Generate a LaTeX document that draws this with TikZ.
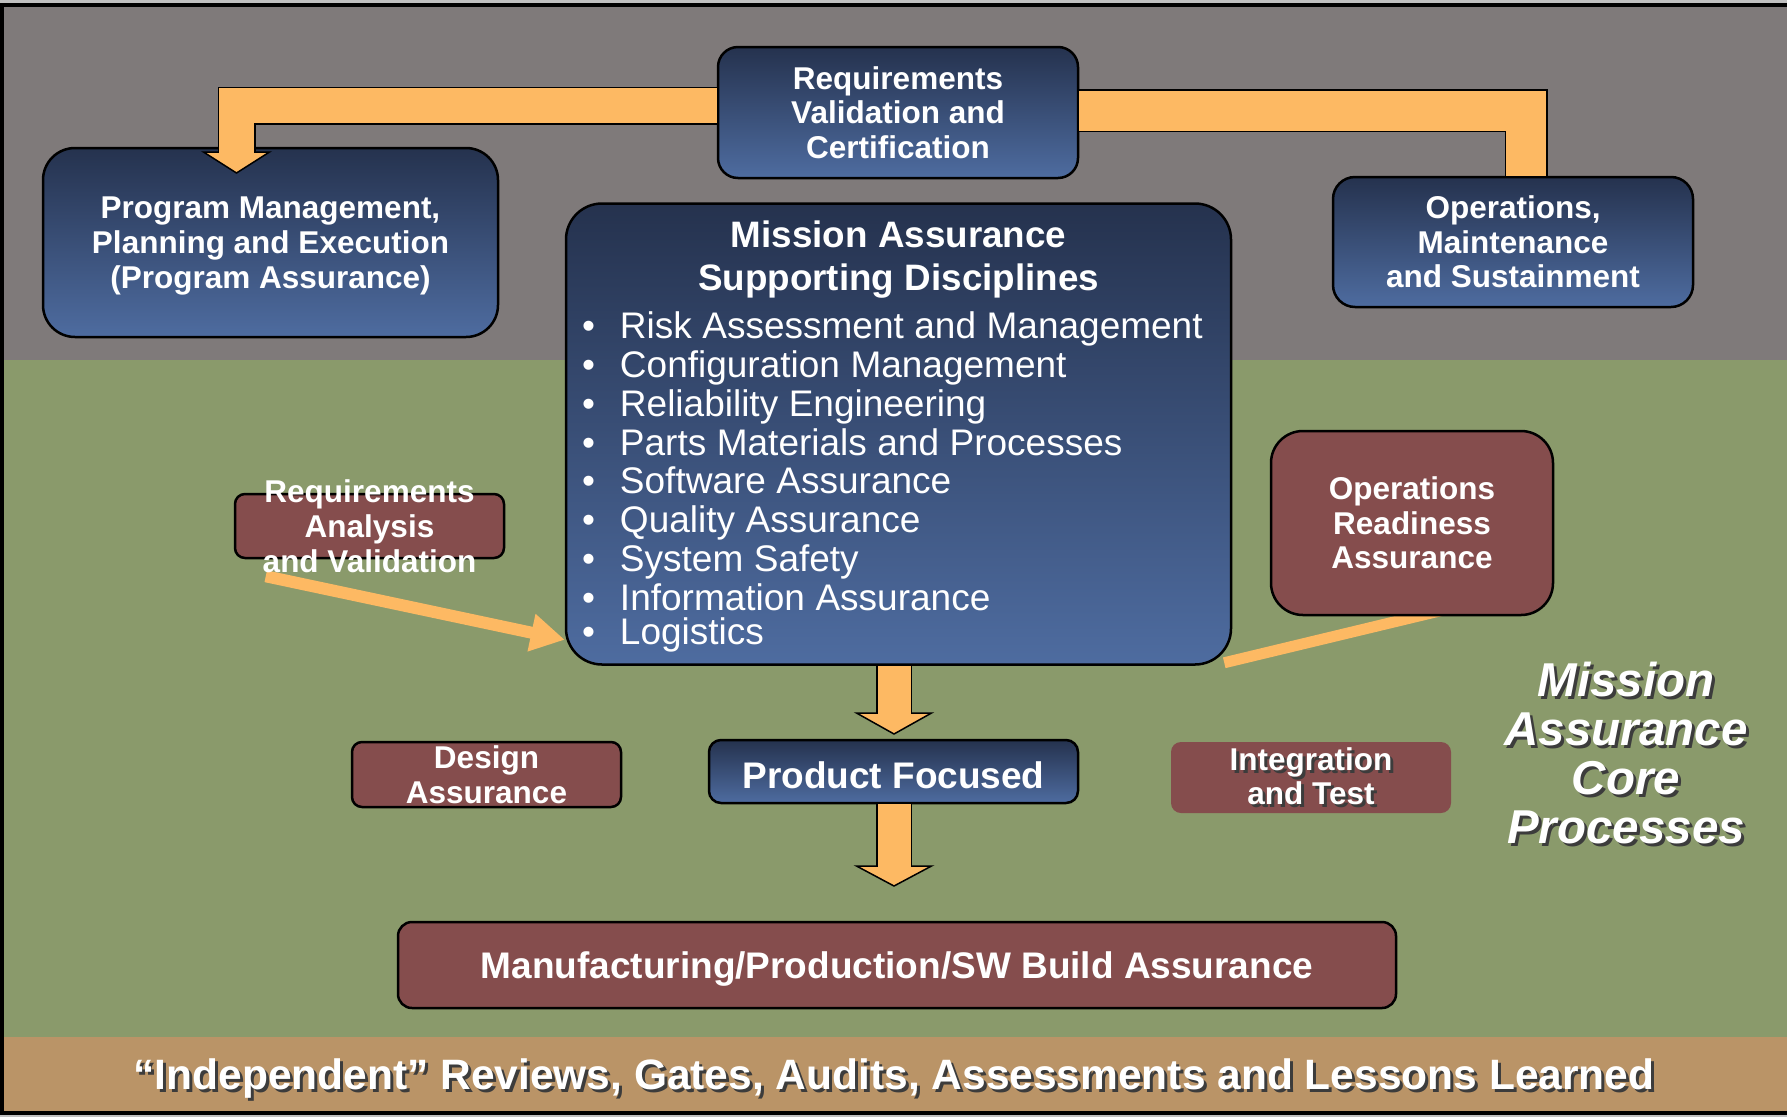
\documentclass[tikz,border=0pt]{standalone}
\usepackage{fontspec}
\setmainfont{Liberation Sans}
\usetikzlibrary{arrows.meta,calc}

\definecolor{graybg}{RGB}{127,122,122}
\definecolor{greenbg}{RGB}{138,154,107}
\definecolor{tanbg}{RGB}{186,148,103}
\definecolor{navytop}{RGB}{37,50,78}
\definecolor{navybot}{RGB}{78,108,160}
\definecolor{boxred}{RGB}{133,77,77}
\definecolor{arrowor}{RGB}{253,185,99}
\definecolor{shadowc}{RGB}{60,60,60}
\definecolor{edgegray}{RGB}{192,192,192}

\pgfdeclarelayer{background}
\pgfdeclarelayer{links}
\pgfsetlayers{background,links,main}

\newcommand{\shadowed}[1]{\leavevmode\rlap{\kern3pt\raisebox{-3pt}{\color{shadowc}#1}}#1}
\newcommand{\bul}{\makebox[38pt][l]{\textbullet}}

\tikzset{
  bluebox/.style={draw=black, line width=2.5pt, top color=navytop, bottom color=navybot,
    text=white, align=center, inner sep=0pt, font=\fontsize{31.5}{34.5}\selectfont\bfseries},
  redbox/.style={draw=black, line width=2.5pt, fill=boxred, text=white, align=center,
    inner sep=0pt, font=\fontsize{31.5}{34.5}\selectfont\bfseries},
  bandline/.style={draw=black, line width=1.5pt, double=arrowor, double distance=35pt, line join=miter},
  bandtip/.style={fill=arrowor, draw=black, line width=1.5pt, line join=miter},
  feed/.style={draw=arrowor, line width=12pt, -{Triangle[length=34pt,width=36pt]}},
  boxtext/.style={text=white, align=center, inner sep=0pt, font=\fontsize{31.5}{35}\selectfont\bfseries},
}

\begin{document}
\begin{tikzpicture}[x=1pt,y=-1pt]
\useasboundingbox (0,0) rectangle (1787,1117);
\begin{pgfonlayer}{background}
\fill[edgegray] (0,0) rectangle (1787,1117);
\fill[black] (0,3) rectangle (1787,1115);
\fill[graybg] (4,7) rectangle (1787,360);
\fill[greenbg] (4,360) rectangle (1787,1037);
\fill[tanbg] (4,1037) rectangle (1787,1111);
\end{pgfonlayer}

% boxes
\node[bluebox, minimum width=360pt, minimum height=131pt, rounded corners=20pt] (rvc) at (898,112.5) {Requirements\\Validation and\\Certification};
\node[bluebox, minimum width=455pt, minimum height=189pt, rounded corners=32pt,
  label={[boxtext, yshift=-3pt]center:Program Management,\\Planning and Execution\\(Program Assurance)}] (pm) at (270.5,242.5) {};
\node[bluebox, minimum width=360pt, minimum height=130pt, rounded corners=22pt] (oms) at (1513,242) {Operations,\\Maintenance\\and Sustainment};
\node[bluebox, minimum width=665pt, minimum height=461pt, rounded corners=36pt, text width=633pt, align=left] (mad) at (898.5,434) {%
{\centering\fontsize{36.8}{43}\selectfont\bfseries\rule{0pt}{32.5pt}Mission Assurance\\Supporting Disciplines\par}
\vspace{9pt}
\fontsize{37}{38.8}\selectfont\mdseries
\bul Risk Assessment and Management\\
\bul Configuration Management\\
\bul Reliability Engineering\\
\bul Parts Materials and Processes\\
\bul Software Assurance\\
\bul Quality Assurance\\
\bul System Safety\\
\bul Information Assurance\\
\bul Logistics};
\node[redbox, minimum width=269pt, minimum height=64pt, rounded corners=10pt,
  label={[boxtext]center:Requirements\\Analysis\\and Validation}] (rav) at (369.5,526) {};
\node[redbox, minimum width=282pt, minimum height=184pt, rounded corners=32pt] (ora) at (1412,523) {Operations\\Readiness\\Assurance};
\node[redbox, minimum width=269pt, minimum height=65pt, rounded corners=10pt] (da) at (486.5,774.5) {Design\\Assurance};
\node[bluebox, minimum width=369pt, minimum height=63pt, rounded corners=12pt, text height=33.5pt, text depth=0pt,
  font=\fontsize{37}{40}\selectfont\bfseries] (pf) at (893.5,771.5) {Product Focused};
\node[redbox, draw=none, minimum width=280pt, minimum height=71pt, rounded corners=10pt] (it) at (1311,777.5) {\shadowed{Integration}\\\shadowed{and Test}};
\node[redbox, minimum width=998pt, minimum height=86pt, rounded corners=14pt, text height=26.5pt, text depth=0pt,
  font=\fontsize{37}{40}\selectfont\bfseries] (mfg) at (897,965) {Manufacturing/Production/SW Build Assurance};

% side texts
\node[text=white, align=center, inner sep=0pt, font=\fontsize{47.5}{49}\selectfont\bfseries\itshape] (core) at (1626,754.5) {\shadowed{Mission}\\\shadowed{Assurance}\\\shadowed{Core}\\\shadowed{Processes}};
\node[text=white, inner sep=0pt, text height=30.4pt, text depth=0pt, font=\fontsize{42.5}{48}\selectfont\bfseries] (rev) at (894,1074) {\shadowed{“Independent” Reviews, Gates, Audits, Assessments and Lessons Learned}};

% connectors
\coordinate (pmbend) at (236.5,105.5);
\coordinate (pmtip) at (236.5,153);
\coordinate (omsbend) at (1526,110.5);
\coordinate (pftip) at (894,714);
\coordinate (mfgtip) at (894,867);

\path[bandtip] ($(pmtip)+(-33,-1)$) -- ($(pmtip)+(0,20)$) -- ($(pmtip)+(33,-1)$) -- cycle;
\draw[bandline] (rvc.west |- pmbend) -- (pmbend) -- (pmtip);
\draw[bandline, double distance=40pt] (rvc.east |- omsbend) -- (omsbend) -- (omsbend |- oms.north);

\path[bandtip] ($(pftip)+(-37.5,-1)$) -- ($(pftip)+(0,20)$) -- ($(pftip)+(37.5,-1)$) -- cycle;
\draw[bandline, double distance=33pt] (mad.south -| pftip) -- (pftip);
\path[bandtip] ($(mfgtip)+(-37.5,-1)$) -- ($(mfgtip)+(0,19)$) -- ($(mfgtip)+(37.5,-1)$) -- cycle;
\draw[bandline, double distance=33pt] (pf.south -| mfgtip) -- (mfgtip);

\begin{pgfonlayer}{links}
\draw[feed] ($(rav.south west)+(32,17)$) -- ($(mad.south west)+(0,-26)$);
\draw[arrowor, line width=11pt] ($(mad.south east)+(-8,-3)$) -- ($(ora.south)+(68,-15)$);
\end{pgfonlayer}
\end{tikzpicture}
\end{document}
